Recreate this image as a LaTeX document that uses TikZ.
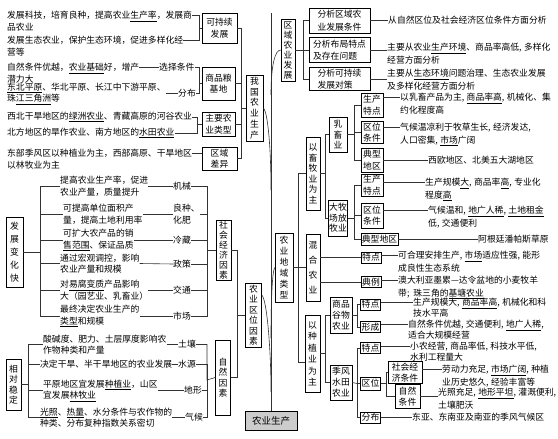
\documentclass[tikz,border=0pt]{standalone}
\usepackage{fontspec}
\setmainfont{Noto Sans CJK SC}
\newcommand{\cma}{,\hspace{2.5pt}}

\begin{document}
\begin{tikzpicture}[x=1pt, y=-1pt,
    box/.style={draw, line width=0.6pt, inner sep=1pt, align=center, font=\fontsize{8.8}{11.5}\selectfont},
    vbox/.style={box, inner xsep=0.5pt, font=\fontsize{8.8}{#1}\selectfont},
    vbox/.default=11,
    abox/.style={box, align=left, minimum width=61pt, font=\fontsize{8.8}{12.5}\selectfont},
    txt/.style={inner sep=0pt, align=left, font=\fontsize{8.8}{11.5}\selectfont},
    note/.style={txt, font=\fontsize{8.8}{12.5}\selectfont},
    tight/.style={txt, font=\fontsize{8.8}{10.5}\selectfont},
    link/.style={line width=0.6pt, black!80},
    root/.style={box, fill=black!20, minimum width=52pt, minimum height=19pt, font=\fontsize{9.5}{11}\selectfont}
]
\useasboundingbox (0,0) rectangle (558,439);

% Root and trunk
\node[root] (root) at (271,420.5) {农业生产};
\coordinate (top) at (271,13);
\draw[link] (root.north) -- (top);

% Main branches
\node[vbox=10.8, minimum width=17pt, minimum height=66pt] (china) at (254.5,108) {我\\国\\农\\业\\生\\产};
\node[vbox=10, minimum width=14pt, minimum height=62pt] (region) at (288,50) {区\\域\\农\\业\\发\\展};
\node[vbox=11, minimum width=18pt, minimum height=69pt] (landuse) at (284,267.5) {农\\业\\地\\域\\类\\型};
\node[vbox=10.5, minimum width=16pt, minimum height=64pt] (locfac) at (253.5,315) {农\\业\\区\\位\\因\\素};
\coordinate (k1) at (271,95);
\coordinate (k2) at (271,190);
\coordinate (k3) at (271,338);
\coordinate (k4) at (271,392);
\draw[link] (region.west) .. controls (275,50) and (271,65) .. (k1);
\draw[link] (china.east) .. controls (268,112) and (271,150) .. (k2);
\draw[link] (landuse.west) .. controls (272,272) and (271,305) .. (k3);
\draw[link] ([yshift=20pt]locfac.east) .. controls (267,300) and (271,350) .. (k4);

% China agriculture (top left)
\node[box, minimum width=35pt, minimum height=30pt] (sust) at (219.5,28) {可持续\\发展};
\node[box, minimum width=33pt, minimum height=33pt] (grain) at (218.5,83.5) {商品粮\\基地};
\node[box, minimum width=33pt, minimum height=24pt] (types) at (218.5,124) {主要农\\业类型};
\node[box, minimum width=35pt, minimum height=23pt] (diff) at (219.5,158.5) {区域\\差异};

\node[txt, anchor=north west] (t1) at (7,11) {发展科技，培育良种，提高农业\underline{生产率}，发展商\\品农业};
\node[txt, anchor=north west] (t2) at (7,36) {发展生态农业，保护生态环境，促进多样化经\\营等};
\node[txt, anchor=north west] (t3) at (7,63) {自然条件优越，\underline{农业基础}好，增产\\潜力大};
\node[txt, anchor=west] (t4) at (7,93.5) {\underline{东北平原}、华北平原、长江中下游平原、\\珠\underline{江三角洲}等};
\node[txt, anchor=west] (t5) at (7,117) {西北干旱地区的\underline{绿洲农业}、青藏高原的河谷农业};
\node[txt, anchor=west] (t6) at (7,133) {北方地区的旱作农业、南方地区的\underline{水田农业}};
\node[txt, anchor=north west] (t7) at (7,149) {东部季风区以种植业为主，西部高原、干旱地区\\以林牧业为主};
\node[txt, anchor=west] (g1) at (159,67) {选择条件};
\node[txt, anchor=west] (g2) at (178,93.5) {分布};

\coordinate (sj) at (199,28);
\coordinate (gj) at (199,83.5);
\coordinate (tj) at (197,124);
\coordinate (cj) at (241.5,108);
\draw[link] ([yshift=-4pt]t1.north east) -| (sj) -- (sust.west);
\draw[link] ([yshift=-4pt]t2.north east) -| (sj);
\draw[link] ([yshift=-4pt]t3.north east) -- (g1.west);
\draw[link] (t4.east) -- (g2.west);
\draw[link] (g1.east) -| (gj) -- (grain.west);
\draw[link] (g2.east) -| (gj);
\draw[link] (t5.east) -| (tj) -- (types.west);
\draw[link] (t6.east) -| (tj);
\draw[link] ([yshift=-4pt]t7.north east) coordinate (q) -- (q -| diff.west);
\draw[link] (sust.east) -| (cj) -- (china.west);
\draw[link] (grain.east) -| (cj);
\draw[link] (types.east) -| (cj);
\draw[link] (diff.east) -| (cj);

% Socio-economic factors (middle left)
\node[vbox=13, minimum width=17pt, minimum height=70pt] (fast) at (14.5,252) {发\\展\\变\\化\\快};
\node[vbox=10, minimum width=15pt, minimum height=60pt] (socio) at (223.5,250) {社\\会\\经\\济\\因\\素};
\node[txt, anchor=west] (s1) at (60,186) {提高农业生产率，促进\\农业产量，质量提升};
\node[txt, anchor=west] (s2) at (63,214) {可提高单位面积产\\量，提高土地利用率};
\node[txt, anchor=west] (s3) at (63,240) {可扩大农产品的销\\\underline{售范围}、保证品质};
\node[txt, anchor=west] (s4) at (60,263.5) {通过宏观调控，影响\\农业产量和规模};
\node[txt, anchor=west] (s5) at (60,290) {对\underline{易腐变质}产品影响\\大（园艺业、乳畜业）};
\node[txt, anchor=west] (s6) at (60,316) {最终决定农业生产的\\\underline{类型}和规模};
\node[txt, anchor=west] (m1) at (173,186) {机械};
\node[txt, anchor=west] (m2) at (173,214) {良种、\\化肥};
\node[txt, anchor=west] (m3) at (173,240) {冷藏};
\node[txt, anchor=west] (m4) at (173,264) {政策};
\node[txt, anchor=west] (m5) at (173,290) {交通};
\node[txt, anchor=west] (m6) at (173,316) {市场};

\coordinate (fj) at (40,252);
\coordinate (mj) at (207,250);
\draw[link] (fast.east) -- (fj);
\draw[link] (fj) |- (s1.west);
\draw[link] (fj) |- (s2.west);
\draw[link] (fj) |- (s3.west);
\draw[link] (fj) |- (s4.west);
\draw[link] (fj) |- (s5.west);
\draw[link] (fj) |- (s6.west);
\draw[link] (s1.east) -- (m1.west);
\draw[link] (s2.east) -- (m2.west);
\draw[link] (s3.east) -- (m3.west);
\draw[link] (s4.east) -- (m4.west);
\draw[link] (s5.east) -- (m5.west);
\draw[link] (s6.east) -- (m6.west);
\draw[link] (m1.east) -| (mj) -- (socio.west);
\draw[link] (m2.east) -| (mj);
\draw[link] (m3.east) -| (mj);
\draw[link] (m4.east) -| (mj);
\draw[link] (m5.east) -| (mj);
\draw[link] (m6.east) -| (mj);

% Natural factors (bottom left)
\node[vbox=10.5, minimum width=15pt, minimum height=51pt] (stable) at (13.5,384.5) {相\\对\\稳\\定};
\node[vbox=10.5, minimum width=15pt, minimum height=75pt] (natur) at (223,377.5) {自\\然\\因\\素};
\node[txt, anchor=west] (n1) at (43,344.5) {酸碱度、肥力、土层厚度影响农\\作物种类和产量};
\node[txt, anchor=west] (n2) at (40,364) {决定干旱、半干旱地区的农业发展};
\node[txt, anchor=west] (n3) at (43,390.5) {平原地区宜发展\underline{种植业}，山区\\宜发展\underline{林牧业}};
\node[txt, anchor=west] (n4) at (40,417.5) {\underline{光照}、\underline{热量}、水分条件与农作物的\\种类、分布复种指数关系密切};
\node[txt, anchor=west] (w1) at (178,344.5) {土壤};
\node[txt, anchor=west] (w2) at (178,364) {水源};
\node[txt, anchor=west] (w3) at (184,390.5) {地形};
\node[txt, anchor=west] (w4) at (185,417.5) {气候};

\coordinate (nj) at (28,384.5);
\coordinate (wj) at (207,380);
\draw[link] (stable.east) -- (nj);
\draw[link] (nj) |- (n1.west);
\draw[link] (nj) |- (n2.west);
\draw[link] (nj) |- (n3.west);
\draw[link] (nj) |- (n4.west);
\draw[link] (n1.east) -- (w1.west);
\draw[link] (n2.east) -- (w2.west);
\draw[link] (n3.east) -- (w3.west);
\draw[link] (n4.east) -- (w4.west);
\draw[link] (w1.east) -| (wj) -- (natur.west);
\draw[link] (w2.east) -| (wj);
\draw[link] (w3.east) -| (wj);
\draw[link] (w4.east) -| (wj);

\coordinate (lj) at (237,315);
\draw[link] (socio.east) -| (lj) -- (locfac.west);
\draw[link] (natur.east) -| (lj);

% Regional development (top right)
\node[abox, minimum height=25pt] (a1) at (339.5,20.5) {分析区域农\\业发展条件};
\node[abox, minimum height=25pt] (a2) at (339.5,50) {分析布局特点\\及存在问题};
\node[abox, minimum height=22pt] (a3) at (339.5,79) {分析可持续\\发展对策};
\node[note, anchor=west] (r1) at (388,20.5) {从自然区位及社会经济区位条件方面分析};
\node[note, anchor=north west] (r2) at (387,43) {主要从农业\underline{生产环境}、商品率高低\cma 多样化\\经营方面分析};
\node[note, anchor=north west] (r3) at (387,69) {主要从\underline{生态环境}问题治理、生态农业发展\\及多样化经营方面分析};

\coordinate (rj) at (303,50);
\draw[link] (region.east) -- (rj);
\draw[link] (rj) |- (a1.west);
\draw[link] (rj) -- (a2.west);
\draw[link] (rj) |- (a3.west);
\draw[link] (a1.east) -- (r1.west);
\draw[link] (a2.east) -- (a2.east -| r2.west);
\draw[link] (a3.east) -- (a3.east -| r3.west);

% Land-use types (right)
\node[vbox=10.5, minimum width=14pt, minimum height=73pt] (livestock) at (313,173.5) {以\\畜\\牧\\业\\为\\主};
\node[vbox=15, minimum width=14pt, minimum height=67pt] (mixed) at (313,267.5) {混\\合\\农\\业};
\node[vbox=11.5, minimum width=15pt, minimum height=77pt] (crop) at (312.5,353.5) {以\\种\\植\\业\\为\\主};
\coordinate (lu) at (298,267.5);
\draw[link] (landuse.east) -- (mixed.west);
\draw[link] (lu) |- (livestock.west);
\draw[link] (lu) |- ([yshift=-9pt]crop.west);

% Livestock
\node[vbox=10.5, minimum width=18pt, minimum height=35pt] (dairy) at (338,134.5) {乳\\畜\\业};
\node[vbox=10.5, minimum width=19pt, minimum height=36pt] (ranch) at (338,218) {大牧\\场放\\牧业};
\coordinate (lv) at (325,173.5);
\draw[link] (livestock.east) -- (lv);
\draw[link] (lv) |- (dairy.west);
\draw[link] (lv) |- (ranch.west);

\node[box, minimum width=22pt, minimum height=24pt] (dp) at (372,105) {生产\\特点};
\node[box, minimum width=22pt, minimum height=21pt] (dl) at (372,132.5) {区位\\条件};
\node[box, minimum width=22pt, minimum height=24pt] (dr) at (372,160) {典型\\地区};
\coordinate (dj) at (354,134.5);
\draw[link] (dairy.east) -- (dj);
\draw[link] (dj) |- (dp.west);
\draw[link] (dj) |- (dl.west);
\draw[link] (dj) |- (dr.west);
\node[note, anchor=north west] (dpt) at (400,93) {以乳畜产品为主\cma\underline{商品率高}\cma 机械化、集\\约化程度高};
\node[note, anchor=north west] (dlt) at (400,123) {气候温凉利于牧草生长\cma 经济发达,\\人口密集\cma\underline{市场}广阔};
\node[note, anchor=west] (drt) at (428,160) {西欧地区、北美五大湖地区};
\draw[link] ([yshift=-4pt]dpt.north west) coordinate (q) -- (q -| dp.east);
\draw[link] ([yshift=-4pt]dlt.north west) coordinate (q) -- (q -| dl.east);
\draw[link] (dr.east) -- (dr.east -| drt.west);

\node[box, minimum width=22pt, minimum height=20pt] (rp) at (372,185) {生产\\特点};
\node[box, minimum width=22pt, minimum height=25pt] (rl) at (372,215.5) {区位\\条件};
\node[box, minimum width=37pt, minimum height=12pt] (rr) at (379.5,239) {典型地区};
\coordinate (rk) at (354,218);
\draw[link] (ranch.east) -- (rk);
\draw[link] (rk) |- (rp.west);
\draw[link] (rk) |- (rl.west);
\draw[link] (rk) |- (rr.west);
\node[note, anchor=north west] (rpt) at (425,178) {生产规模\underline{大}\cma 商品率\underline{高}\cma 专业化\\程度\underline{高}};
\node[note, anchor=north west] (rlt) at (428,206) {气候温和\cma\underline{地广人稀}\cma\underline{土地租金}\\低\cma 交通便利};
\node[note, anchor=west] (rrt) at (478,239) {阿根廷潘帕斯草原};
\draw[link] ([yshift=-4pt]rpt.north west) coordinate (q) -- (q -| rp.east);
\draw[link] ([yshift=-4pt]rlt.north west) coordinate (q) -- (q -| rl.east);
\draw[link] (rr.east) -- (rr.east -| rrt.west);

% Mixed farming
\node[box, minimum width=20pt, minimum height=11pt] (mp) at (371,257.5) {特点};
\node[box, minimum width=20pt, minimum height=11pt] (mc) at (371,282) {典例};
\draw[link] (mp.west) -- (mp.west -| mixed.east);
\draw[link] (mc.west) -- (mc.west -| mixed.east);
\node[note, anchor=north west] (mpt) at (398,251) {可合理安排生产\cma\underline{市场}适应性强\cma 能形\\成良性生态系统};
\node[note, anchor=north west] (mct) at (398,276) {澳大利亚墨累—达令盆地的小麦牧羊\\带;\hspace{4pt}珠三角的\underline{基塘农业}};
\draw[link] ([yshift=-4pt]mpt.north west) coordinate (q) -- (q -| mp.east);
\draw[link] ([yshift=-4pt]mct.north west) coordinate (q) -- (q -| mc.east);

% Crop farming
\node[vbox=11, minimum width=22pt, minimum height=36pt] (grainfarm) at (341,315) {商品\\谷物\\农业};
\node[vbox=11, minimum width=22pt, minimum height=35pt] (paddy) at (341,382.5) {季风\\水田\\农业};
\coordinate (ck) at (325,353.5);
\draw[link] (crop.east) -- (ck);
\draw[link] (ck) |- (grainfarm.west);
\draw[link] (ck) |- (paddy.west);

\node[box, minimum width=19pt, minimum height=11pt] (gp) at (370.5,304.5) {特点};
\node[box, minimum width=19pt, minimum height=11pt] (gf) at (370.5,327) {形成};
\coordinate (gk) at (357,315);
\draw[link] (grainfarm.east) -- (gk);
\draw[link] (gk) |- (gp.west);
\draw[link] (gk) |- (gf.west);
\node[tight, anchor=north west] (gpt) at (413,298) {生产规模大\cma\underline{商品率高}\cma 机械化和科\\技水平高};
\node[tight, anchor=north west] (gft) at (408,320) {自然条件优越\cma 交通便利\cma\underline{地广人稀},\\适合大规模经营};
\draw[link] ([yshift=-4pt]gpt.north west) coordinate (q) -- (q -| gp.east);
\draw[link] ([yshift=-4pt]gft.north west) coordinate (q) -- (q -| gf.east);

\node[box, minimum width=19pt, minimum height=11pt] (pp) at (370.5,348) {特点};
\node[box, minimum width=20pt, minimum height=13pt] (ploc) at (370.5,383.5) {区位};
\node[box, minimum width=19pt, minimum height=11pt] (pd) at (370.5,417.5) {分布};
\node[box, minimum width=34pt, minimum height=22pt] (psoc) at (405,372.5) {社会经\\济条件};
\node[box, minimum width=25pt, minimum height=24pt] (pnat) at (407.5,396.5) {自然\\条件};
\coordinate (pk) at (357,383.5);
\draw[link] (paddy.east) -- (pk);
\draw[link] (pk) -- (ploc.west);
\draw[link] (pk) |- (pp.west);
\draw[link] (pk) |- (pd.west);
\coordinate (pk2) at (386,383.5);
\draw[link] (ploc.east) -- (pk2);
\draw[link] (pk2) |- (psoc.west);
\draw[link] (pk2) |- (pnat.west);
\node[tight, anchor=north west] (ppt) at (410,342) {小农经营\cma 商品率低\cma 科技水平低,\\水利工程量大};
\node[note, anchor=north west] (pst) at (442,365) {劳动力充足\cma\underline{市场广阔}\cma 种植\\业历史悠久\cma 经验丰富等};
\node[note, anchor=north west] (pnt) at (438,388) {光照充足\cma\underline{地形平坦}\cma 灌溉便利,\\土壤肥沃};
\node[note, anchor=west] (pdt) at (412,417.5) {东亚、东南亚及南亚的季风气候区};
\draw[link] ([yshift=-4pt]ppt.north west) coordinate (q) -- (q -| pp.east);
\draw[link] ([yshift=-4pt]pst.north west) coordinate (q) -- (q -| psoc.east);
\draw[link] (pnat.east) -- (pnat.east -| pnt.west);
\draw[link] (pd.east) -- (pdt.west);
\end{tikzpicture}
\end{document}
